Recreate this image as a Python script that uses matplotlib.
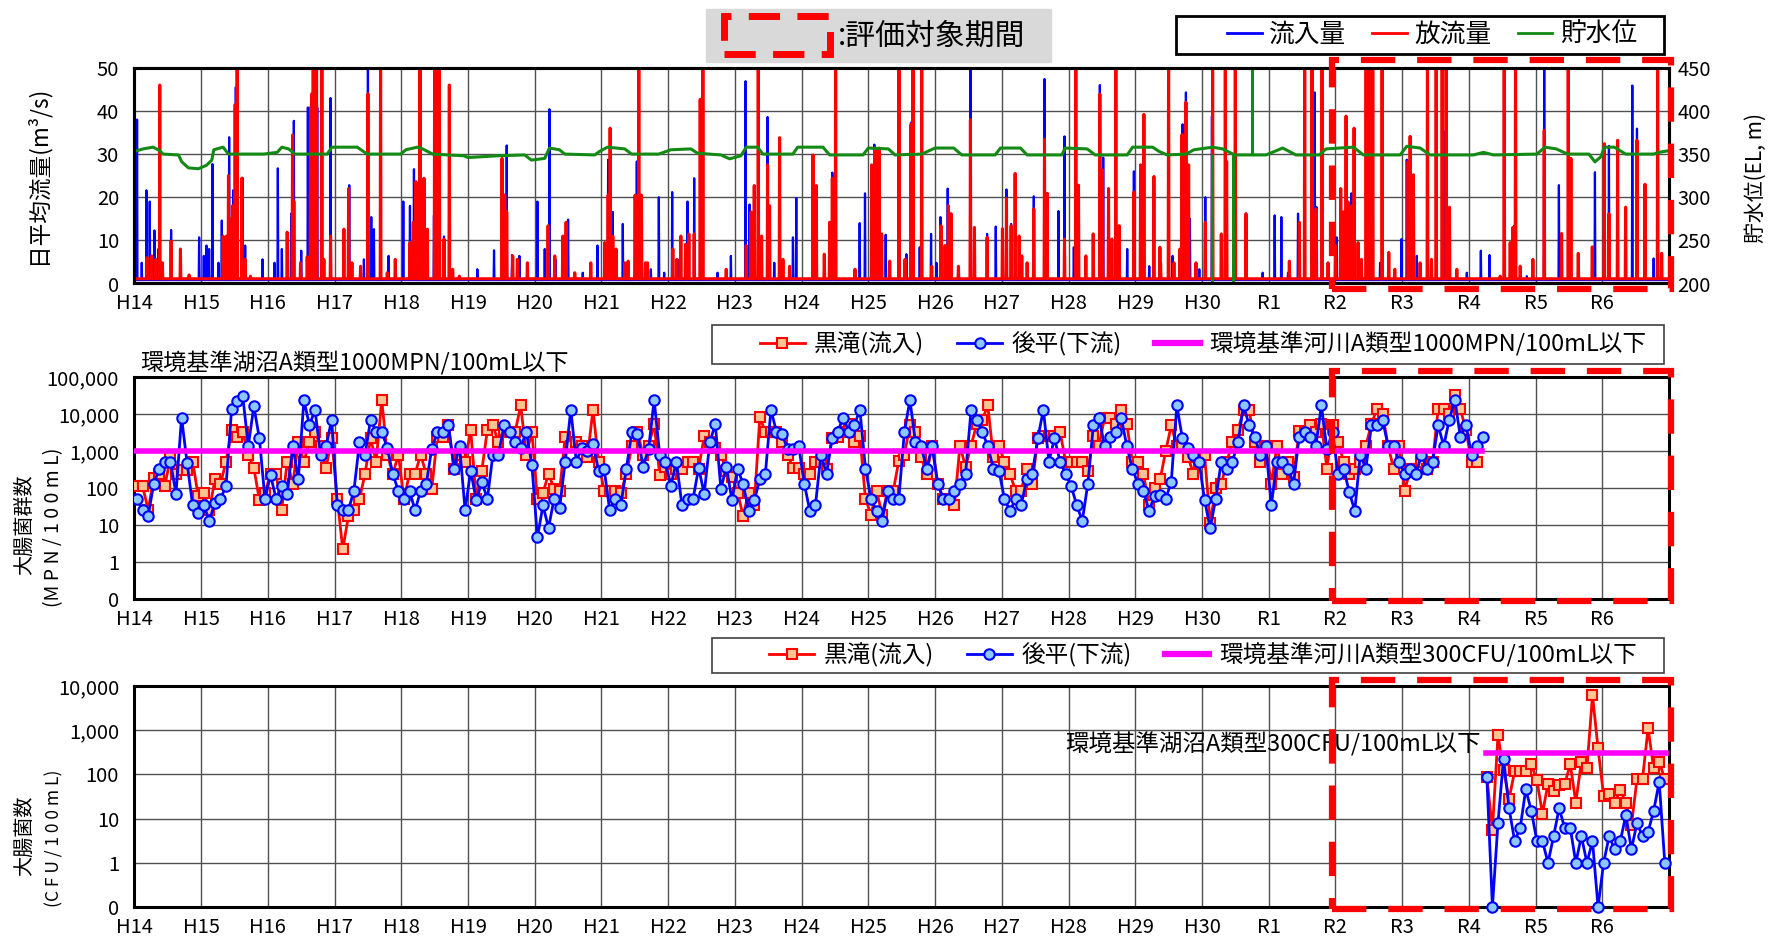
import numpy as np
import matplotlib.pyplot as plt
from matplotlib.patches import Rectangle
from matplotlib.lines import Line2D

plt.rcParams['font.family'] = ['Noto Sans CJK JP', 'DejaVu Sans']

# x axis: fiscal years counted from H14 (April 2002)
year_labels = ['H14', 'H15', 'H16', 'H17', 'H18', 'H19', 'H20', 'H21', 'H22', 'H23',
               'H24', 'H25', 'H26', 'H27', 'H28', 'H29', 'H30', 'R1', 'R2', 'R3',
               'R4', 'R5', 'R6']

# ---- daily flow: peaks (years since H14, m3/s; 60 = off scale)
outflow_t = [0.19, 0.26, 0.32, 0.38, 0.42, 0.55, 0.69, 0.82, 1.33, 1.38,
             1.41, 1.44, 1.47, 1.51, 1.54, 1.61, 1.66, 1.74, 2.29, 2.37,
             2.39, 2.49, 2.59, 2.64, 2.66, 2.68, 2.70, 2.73, 2.81, 2.84,
             2.94, 3.14, 3.21, 3.26, 3.39, 3.50, 3.69, 3.79, 3.91, 4.13,
             4.18, 4.22, 4.28, 4.34, 4.39, 4.50, 4.54, 4.57, 4.64, 4.72,
             4.77, 4.87, 5.51, 5.55, 5.58, 5.67, 5.74, 5.89, 6.20, 6.30,
             6.42, 6.47, 6.60, 6.84, 7.05, 7.10, 7.13, 7.17, 7.22, 7.35,
             7.40, 7.51, 7.56, 7.60, 7.69,
             7.66, 8.07, 8.13, 8.19, 8.26, 8.31, 8.39, 8.48, 8.52, 8.87,
             9.17, 9.24, 9.29, 9.35, 9.40, 9.49, 9.52, 9.67, 9.72, 9.82,
             10.17, 10.22, 10.34, 10.42, 10.46, 10.51, 10.80, 11.05, 11.10, 11.13,
             11.16, 11.20, 11.32, 11.46, 11.55, 11.64, 11.67, 11.80, 11.95, 12.09,
             12.15, 12.20, 12.24, 12.35, 12.53, 12.59, 12.78, 13.01, 13.07, 13.14,
             13.20, 13.26, 13.30, 13.38, 13.48, 13.64, 13.68, 13.94, 14.11, 14.15,
             14.26, 14.37, 14.47, 14.51, 14.60, 14.65, 14.71, 14.76, 14.98, 15.08,
             15.13, 15.28, 15.38,
             15.37, 15.50, 15.58, 15.67, 15.70, 15.76, 15.80, 15.91, 16.05, 16.16,
             16.29, 16.35, 16.37, 16.50, 16.66, 17.31, 17.46, 17.54, 17.65, 17.71,
             17.80, 17.89, 18.00, 18.08, 18.12, 18.16, 18.19, 18.24, 18.28, 18.34,
             18.39, 18.46, 18.49, 18.53, 18.56, 18.70, 18.80, 18.89, 19.09, 19.12,
             19.17, 19.27, 19.38, 19.44, 19.51, 19.60, 19.66, 19.71, 19.82, 20.47,
             20.53, 20.62, 20.66, 20.70, 20.77, 20.96,
             21.13, 21.39, 21.49, 21.53, 21.64, 21.85, 22.03, 22.10, 22.23, 22.35,
             22.52, 22.64, 22.83, 22.89]
outflow_q = [6, 6.4, 5.6, 46, 4.8, 9.8, 8, 2, 11, 11,
             25, 15, 18, 41.5, 60, 24.4, 5.6, 1.7, 11.9, 34.4,
             19, 4.8, 6.2, 40.8, 44, 60, 60, 60, 60, 5.6,
             11, 12.6, 22, 4.8, 4, 44, 60, 2.5, 5.6, 9.5,
             14.2, 23.6, 60, 24.4, 12.6, 60, 60, 60, 10.3, 46,
             3.3, 1.7, 29, 20.5, 16.6, 6.4, 5.6, 4.8, 13.4, 6.4,
             11, 14.2, 2.5, 4.8, 9.5, 20.5, 36, 11, 8, 4.8,
             5.2, 20.5, 60, 20.5, 4.8,
             4.8, 8, 5.6, 11, 9.1, 11.5, 11.5, 42.7, 60, 3.3,
             8.8, 16.6, 22.7, 60, 11, 27.5, 18, 33.8, 5.6, 4,
             29.8, 22.7, 6.8, 14.2, 24.4, 60, 3.3, 27.5, 31.4, 21.2,
             31.4, 11.5, 5.2, 60, 5.6, 36.9, 60, 60, 4, 13.4,
             8.8, 18, 16.2, 4, 38, 13, 10.7, 12.7, 19.7, 13.4,
             25.5, 11, 6.4, 4.8, 17.3, 33.4, 20.9, 10.3, 60, 22.8,
             6.4, 11.5, 43.9, 26.3, 22, 10.3, 60, 13.4, 21.2, 27.5,
             39.2, 24.8, 4.8,
             8.4, 60, 4.8, 8, 34.5, 42, 27.5, 4.8, 14.2, 60,
             11.5, 60, 28.3, 60, 16.2, 5.2, 14.2, 60, 60, 17.3,
             60, 4.8, 8.8, 22, 16.6, 38.8, 18.9, 18, 36, 9.5,
             5.6, 60, 60, 60, 60, 60, 7.2, 3.3, 28.3, 34.1,
             25.2, 4.8, 60, 5.6, 60, 60, 60, 17.7, 3.3, 1.7,
             60, 9.5, 13, 60, 4, 5.6,
             35.5, 11.6, 60, 29, 7, 8.5, 32.4, 16.2, 33.2, 17.7,
             33.2, 23, 60, 7]

inflow_t = [0.04, 0.11, 0.18, 0.23, 0.30, 0.36, 0.55, 0.97, 1.04, 1.08,
            1.12, 1.17, 1.26, 1.31, 1.42, 1.48, 1.52, 1.62, 1.66, 1.92,
            2.10, 2.15, 2.21, 2.35, 2.39, 2.50, 2.60, 2.74, 2.94, 3.22,
            3.44, 3.50, 3.55, 3.59, 3.81, 4.03, 4.13, 4.19, 4.49, 4.64,
            5.14, 5.39, 5.58, 5.66, 5.77, 6.04, 6.15, 6.22, 6.31, 6.50,
            6.72, 6.94, 7.10, 7.17, 7.32, 7.50, 7.53,
            7.74, 7.86, 7.94, 8.06, 8.17, 8.29, 8.39, 8.74, 8.94, 9.16,
            9.22, 9.49, 9.59, 9.87, 9.92, 10.46, 10.87, 10.95, 11.09, 11.26,
            11.57, 11.64, 11.77, 11.94, 12.02, 12.08, 12.19, 12.53, 12.78, 12.91,
            13.07, 13.14, 13.48, 13.64, 13.85, 13.94, 14.08, 14.47, 14.52, 14.88,
            14.98, 15.13, 15.21,
            15.56, 15.71, 15.76, 15.82, 15.96, 16.05, 16.15, 16.66, 16.91, 17.09,
            17.19, 17.29, 17.44, 17.69, 17.72, 17.80, 18.02, 18.24, 18.67, 18.99,
            19.07, 19.22, 19.62, 19.97, 20.18, 20.31, 20.68, 20.87,
            21.13, 21.35, 21.89, 22.10, 22.45, 22.52, 22.77]
inflow_q = [38, 4.8, 21.6, 19, 12.3, 8, 12.4, 10.7, 6.4, 8.8,
            8, 27.7, 4.8, 14.6, 33.9, 21.6, 45.5, 24.5, 8.8, 5.6,
            4.8, 26.7, 8, 16.2, 37.7, 7.6, 40.8, 40.8, 43, 22.8,
            5.6, 60, 15.4, 12.6, 6.4, 19, 18, 26.5, 15.8, 10.9,
            3.3, 7.7, 32, 6.6, 6.4, 19, 8, 40.4, 5.6, 14.8,
            2.5, 8.8, 28.7, 16.6, 13.8, 20.5, 28.3,
            3.3, 20, 2.5, 21.2, 5.6, 19, 24.4, 2.5, 6.4, 46.9,
            18.3, 38.6, 4.8, 10.7, 19.8, 25.7, 14, 20.9, 32.2, 11.3,
            6.8, 37.3, 8.4, 11.5, 4.8, 15.4, 22, 60, 11.5, 13.2,
            21.8, 13.8, 20.2, 47.4, 16.8, 34.1, 8.4, 46, 29.2, 8,
            26, 39.2, 4,
            6.4, 36.9, 44.3, 15, 3.3, 20, 38.8, 16.2, 2.5, 15.8,
            15.4, 2.5, 16.2, 44.3, 17.7, 43.5, 10.7, 20.9, 4.8, 10.3,
            28.7, 6.4, 35.3, 2.5, 7.6, 6.6, 13.4, 1.7,
            60, 22.8, 25.8, 31.9, 45.9, 35.9, 5.8]

# reservoir level (EL, m)
level_t = [0.00, 0.13, 0.28, 0.38, 0.43, 0.66, 0.71, 0.81, 0.96, 1.08,
           1.16, 1.19, 1.33, 1.41, 1.94, 2.14, 2.21, 2.31, 2.41, 2.89,
           2.96, 3.34, 3.49, 3.99, 4.07, 4.24, 4.32, 4.47, 4.94, 5.00,
           5.44, 5.85, 5.95, 6.15, 6.22, 6.37, 6.45, 6.90, 6.97, 7.09,
           7.35, 7.45, 7.86, 8.04, 8.34, 8.44, 8.79, 8.92, 9.09, 9.17,
           9.34, 9.42, 9.87, 9.94, 10.32, 10.42, 10.92, 11.00, 11.30, 11.40,
           11.80, 12.00, 12.28, 12.40, 12.90, 12.98, 13.28, 13.38, 13.90, 13.95,
           14.28, 14.40, 14.88, 14.96, 15.26, 15.36, 15.48, 15.76, 15.88, 16.16,
           16.31, 16.49, 16.96, 17.21, 17.41, 17.76, 17.86, 18.27, 18.42, 18.97,
           19.07, 19.27, 19.42, 20.07, 20.22, 20.37, 21.02, 21.14, 21.31, 21.48,
           21.80, 21.89, 21.98, 22.03, 22.18, 22.35, 22.77, 22.85, 23.0]
level_m = [353, 356, 358, 354, 350, 349, 341, 334, 333, 337,
           343, 355, 358, 350, 350, 352, 358, 356, 350, 350,
           358, 358, 350, 350, 355, 358, 356, 350, 348, 346,
           348, 349, 343, 345, 357, 355, 350, 349, 353, 358,
           356, 350, 350, 355, 356, 351, 349, 344.5, 348, 358,
           358, 350, 350, 358, 358, 349, 349, 357, 356, 349,
           350, 357, 357, 349, 349, 357, 357, 349, 349, 357,
           356, 349, 349, 358, 358, 353, 349, 350, 355, 358,
           356, 349, 349, 357, 349, 349, 356, 358, 349, 349,
           359, 357, 349, 349, 352, 349, 350, 358, 356, 350,
           350, 341, 347, 358, 358, 350, 350, 352, 354]
level_glitch_t = [16.15, 16.46, 16.75]
level_glitch_m = [195, 195, 455]

# ---- total coliforms, monthly from April H14 (MPN/100mL)
mpn_kurotaki = [
    113, 113, 25, 190, 240, 113, 700, 240, 310, 310, 520, 60,          # H14
    74, 25, 170, 128, 520, 3700, 2400, 3300, 800, 350, 48, 74,         # H15
    240, 240, 25, 520, 128, 1700, 520, 1700, 3300, 1370, 350, 2200,    # H16
    51, 2.2, 17, 25, 51, 240, 2200, 520, 24000, 800, 240, 800,         # H17
    51, 240, 240, 800, 240, 96, 2400, 2400, 5000, 335, 800, 520,       # H18
    3700, 51, 295, 3700, 4900, 1700, 3700, 3300, 3300, 17000, 800, 3300,  # H19
    51, 74, 240, 96, 84, 2400, 1370, 1700, 1370, 700, 13000, 520,      # H20
    84, 84, 84, 74, 240, 1370, 3300, 800, 1370, 5400, 225, 370,        # H21
    240, 335, 335, 520, 520, 335, 2500, 1700, 1230, 780, 295, 200,     # H22
    74, 18, 74, 34, 8200, 3300, 3300, 3300, 1700, 780, 350, 350,       # H23
    240, 240, 520, 520, 335, 2200, 2400, 3300, 5400, 1700, 2500, 51,   # H24
    19, 84, 19, 84, 84, 540, 780, 5000, 3300, 700, 240, 1370,          # H25
    131, 51, 51, 34, 1400, 370, 1370, 5400, 7000, 17000, 700, 1370,    # H26
    520, 240, 84, 84, 335, 128, 2200, 2500, 2500, 2500, 3300, 520,     # H27
    520, 520, 520, 295, 2500, 1370, 8000, 8000, 5400, 13000, 5400, 520,  # H28
    520, 240, 34, 100, 170, 1000, 4900, 1370, 1370, 700, 240, 520,     # H29
    780, 11, 100, 128, 520, 1700, 3700, 13000, 13000, 1700, 520, 1370,  # H30
    128, 1370, 240, 520, 200, 3500, 3300, 5000, 3300, 5400, 335, 4900,  # R1
    1800, 520, 240, 335, 520, 1370, 5400, 13700, 10000, 1370, 335, 1370,  # R2
    84, 335, 335, 520, 335, 520, 13700, 13700, 10000, 33000, 13700, 3700,  # R3
    520, 520]                                                            # R4
mpn_gohira = [
    51, 25, 18, 131, 335, 520, 520, 70, 8000, 470, 34, 21,             # H14
    34, 13, 40, 51, 113, 13700, 22000, 31000, 1370, 16000, 2200, 51,   # H15
    225, 51, 113, 70, 1370, 170, 24000, 5000, 13000, 800, 1370, 7000,  # H16
    34, 25, 25, 84, 1700, 800, 7000, 3300, 3300, 1230, 235, 84,        # H17
    51, 84, 25, 84, 126, 1160, 3300, 3300, 4900, 335, 1370, 25,        # H18
    295, 46, 145, 51, 800, 800, 4900, 3300, 1700, 1230, 3300, 430,     # H19
    4.6, 34, 8.3, 51, 29, 520, 13000, 520, 1230, 1000, 1550, 295,      # H20
    335, 25, 51, 34, 335, 3300, 2900, 370, 1160, 24000, 780, 520,      # H21
    113, 520, 34, 51, 51, 350, 70, 1700, 5400, 96, 370, 46,            # H22
    335, 128, 24, 46, 170, 240, 13000, 3300, 2900, 1100, 1100, 1370,   # H23
    131, 24, 34, 800, 240, 2200, 3300, 8000, 3300, 5000, 13000, 335,   # H24
    51, 24, 13, 84, 51, 51, 3300, 24000, 1700, 1370, 335, 1370,        # H25
    131, 51, 51, 84, 131, 240, 13000, 7000, 3300, 1370, 335, 295,      # H26
    51, 24, 51, 34, 170, 240, 2200, 13000, 520, 2200, 520, 240,        # H27
    113, 34, 13, 131, 5000, 8000, 1370, 2400, 3300, 8000, 1370, 335,   # H28
    131, 84, 24, 60, 64, 51, 145, 17000, 2200, 1230, 800, 520,         # H29
    46, 8.3, 51, 520, 335, 520, 1700, 17000, 5000, 2400, 800, 1370,    # H30
    34, 520, 520, 335, 131, 2400, 3300, 2400, 1370, 17000, 1100, 3300,  # R1
    240, 335, 80, 24, 800, 335, 5000, 5000, 7000, 1370, 1370, 520,     # R2
    240, 335, 240, 800, 335, 520, 5000, 1370, 7000, 24000, 2400, 5000,  # R3
    800, 1370, 2400]                                                    # R4
mpn_std = 1000
mpn_std_span = [0.0, 20.2]

# ---- E. coli, monthly from July R4 (CFU/100mL)
cfu_kurotaki = [88, 5.5, 760, 125, 28, 118, 118, 118, 171, 74,
                13, 62, 43, 57, 60, 171, 23, 193, 136, 6150,
                387, 33, 36, 23, 44, 23, 7, 78, 80, 1100,
                136, 193, 78]
cfu_gohira = [88, 0, 8, 222, 17, 3.1, 6.2, 46, 15, 3.1,
              3.1, 1, 4, 17, 6.2, 6.2, 1, 4, 1, 3.1,
              0, 1, 4, 2, 3.1, 12, 2, 8, 4, 5,
              15, 68, 1]
cfu_std = 300
cfu_std_span = [20.25, 22.95]

eval_start = 18  # R2

W, H = 1771, 946
fig = plt.figure(figsize=(W / 100, H / 100), dpi=100)


def fx(px):
    return px / W


def fy(py):
    return 1 - py / H


def spike_line(t, q, base, w=0.006):
    order = np.argsort(t)
    xs, ys = [0.0], [base]
    for i in order:
        xs += [t[i] - w, t[i], t[i] + w]
        ys += [base, q[i], base]
    xs.append(23.0)
    ys.append(base)
    return xs, ys


def style_axes(ax):
    ax.set_xlim(0, 23)
    ax.set_xticks(range(len(year_labels)))
    ax.set_xticklabels(year_labels)
    ax.grid(True, color='#505050', lw=1.0)
    ax.set_axisbelow(True)
    ax.tick_params(axis='both', length=0, labelsize=14.5)
    ax.tick_params(axis='x', pad=7)
    ax.tick_params(axis='y', pad=11)
    for s in ax.spines.values():
        s.set_linewidth(2.2)
        s.set_color('black')


def eval_box(ax, y0, y1):
    r = Rectangle((eval_start - 0.05, y0), 23.03 - eval_start + 0.05, y1 - y0,
                  transform=ax.get_xaxis_transform(), fill=False, ec='#ff0000',
                  lw=4.5, ls=(0, (5.5, 3.5)), clip_on=False, zorder=20)
    ax.add_patch(r)


def legend_box(x0, y0, x1, y1, lw, ec):
    fig.add_artist(Rectangle((fx(x0), fy(y1)), fx(x1) - fx(x0), (y1 - y0) / H,
                             transform=fig.transFigure, fc='white', ec=ec, lw=lw, zorder=1))


left, width = fx(134.4), fx(1669) - fx(134.4)

# ---------------- top: flow and reservoir level
ax1 = fig.add_axes([left, fy(283.5), width, fy(67.8) - fy(283.5)])
xs, ys = spike_line(inflow_t, inflow_q, 0.8)
ax1.plot(xs, ys, color='#0000ff', lw=1.6, zorder=2)
xs, ys = spike_line(outflow_t, outflow_q, 1.1)
ax1.plot(xs, ys, color='#ff0000', lw=2.2, zorder=3)
ax1.set_ylim(0, 50)
ax1.set_yticks(range(0, 51, 10))
style_axes(ax1)

ax1r = ax1.twinx()
ax1r.plot(level_t, level_m, color='#138a13', lw=2.2)
ax1r.vlines(level_glitch_t, 350, level_glitch_m, color='#138a13', lw=2.2)
ax1r.set_ylim(200, 450)
ax1r.set_yticks(range(200, 451, 50))
ax1r.tick_params(axis='y', length=0, labelsize=14.5, pad=6)
for s in ax1r.spines.values():
    s.set_linewidth(2.2)
eval_box(ax1r, -0.025, 1.035)

fig.text(fx(37), fy(175), '日平均流量(m³/s)', rotation=90, ha='center', va='center', fontsize=16.3)
fig.text(fx(1756), fy(178), '貯水位(EL, m)', rotation=90, ha='center', va='center', fontsize=15)

# ---------------- middle: total coliforms
ax2 = fig.add_axes([left, fy(599), width, fy(377) - fy(599)])
t_red = 0.04 + np.arange(len(mpn_kurotaki)) / 12
t_blue = 0.04 + np.arange(len(mpn_gohira)) / 12
ax2.plot(t_red, mpn_kurotaki, color='#ff0000', lw=2, marker='s', ms=7.5,
         mfc='#fbc592', mec='#ff0000', mew=1.5, zorder=3)
ax2.plot(t_blue, mpn_gohira, color='#0000ff', lw=2, marker='o', ms=7.5,
         mfc='#8cc8ff', mec='#0000ff', mew=1.5, zorder=4)
ax2.plot(mpn_std_span, [mpn_std, mpn_std], color='#ff00ff', lw=4, zorder=5)
ax2.set_yscale('log')
ax2.set_ylim(0.1, 1e5)
ax2.set_yticks([0.1, 1, 10, 100, 1000, 10000, 100000])
ax2.set_yticklabels(['0', '1', '10', '100', '1,000', '10,000', '100,000'])
style_axes(ax2)
ax2.yaxis.set_minor_locator(plt.NullLocator())
eval_box(ax2, -0.01, 1.025)
ax2.text(0.004, 1.06, '環境基準湖沼A類型1000MPN/100mL以下', transform=ax2.transAxes,
         ha='left', va='center', fontsize=16.7)

fig.text(fx(25), fy(525), '大腸菌群数', rotation=90, ha='center', va='center', fontsize=14.5)
fig.text(fx(54), fy(527), '(M P N / 1 0 0 m L)', rotation=90, ha='center', va='center', fontsize=14)

# ---------------- bottom: E. coli
ax3 = fig.add_axes([left, fy(907), width, fy(686) - fy(907)])
t_cfu = 20.27 + np.arange(len(cfu_kurotaki)) / 12
ax3.plot(t_cfu, np.maximum(cfu_kurotaki, 0.1), color='#ff0000', lw=2, marker='s', ms=7.5,
         mfc='#fbc592', mec='#ff0000', mew=1.5, zorder=3, clip_on=False)
ax3.plot(t_cfu, np.maximum(cfu_gohira, 0.1), color='#0000ff', lw=2, marker='o', ms=7.5,
         mfc='#8cc8ff', mec='#0000ff', mew=1.5, zorder=4, clip_on=False)
ax3.plot(cfu_std_span, [cfu_std, cfu_std], color='#ff00ff', lw=4, zorder=5)
ax3.set_yscale('log')
ax3.set_ylim(0.1, 1e4)
ax3.set_yticks([0.1, 1, 10, 100, 1000, 10000])
ax3.set_yticklabels(['0', '1', '10', '100', '1,000', '10,000'])
style_axes(ax3)
ax3.yaxis.set_minor_locator(plt.NullLocator())
eval_box(ax3, -0.01, 1.025)
ax3.text(cfu_std_span[0] - 0.07, 470, '環境基準湖沼A類型300CFU/100mL以下',
         ha='right', va='center', fontsize=16.9, zorder=6)

fig.text(fx(25), fy(836), '大腸菌数', rotation=90, ha='center', va='center', fontsize=14.5)
fig.text(fx(54), fy(838), '(C F U / 1 0 0 m L)', rotation=90, ha='center', va='center', fontsize=12.5)

# ---------------- legends (frames drawn separately to match the boxes)
top_handles = [Line2D([], [], color='#0000ff', lw=2),
               Line2D([], [], color='#ff0000', lw=2),
               Line2D([], [], color='#138a13', lw=2)]
legend_box(1176, 16, 1664, 54, 2, 'black')
fig.legend(top_handles, ['流入量', '放流量', '貯水位'], loc='center',
           bbox_to_anchor=(fx(1432), fy(35)), ncol=3, fontsize=18.5, frameon=False,
           handlelength=1.35, handletextpad=0.3, columnspacing=1.0, borderpad=0)


def coli_handles():
    return [Line2D([], [], color='#ff0000', lw=2, marker='s', ms=7.5, mfc='#fbc592',
                   mec='#ff0000', mew=1.5),
            Line2D([], [], color='#0000ff', lw=2, marker='o', ms=7.5, mfc='#8cc8ff',
                   mec='#0000ff', mew=1.5),
            Line2D([], [], color='#ff00ff', lw=4.5)]


legend_box(712, 325, 1664, 364, 1.2, '#404040')
fig.legend(coli_handles(), ['黒滝(流入)', '後平(下流)', '環境基準河川A類型1000MPN/100mL以下'],
           loc='center', bbox_to_anchor=(fx(1203), fy(344.5)), ncol=3, fontsize=17,
           frameon=False, handlelength=1.9, handletextpad=0.4, columnspacing=1.4, borderpad=0)

legend_box(712, 638, 1664, 673, 1.2, '#404040')
fig.legend(coli_handles(), ['黒滝(流入)', '後平(下流)', '環境基準河川A類型300CFU/100mL以下'],
           loc='center', bbox_to_anchor=(fx(1203), fy(655.5)), ncol=3, fontsize=17,
           frameon=False, handlelength=1.9, handletextpad=0.4, columnspacing=1.4, borderpad=0)

# ---------------- evaluation-period key
fig.add_artist(Rectangle((fx(706), fy(62)), fx(1051) - fx(706), 53 / H,
                         transform=fig.transFigure, color='#d9d9d9', zorder=1))
fig.add_artist(Rectangle((fx(724), fy(54)), fx(830) - fx(724), 38 / H,
                         transform=fig.transFigure, fill=False, ec='#ff0000', lw=5,
                         ls=(0, (4.5, 2.5)), zorder=2))
fig.text(fx(838), fy(36), ':評価対象期間', ha='left', va='center', fontsize=21.5, zorder=3)

fig.savefig('out.png', dpi=100)
